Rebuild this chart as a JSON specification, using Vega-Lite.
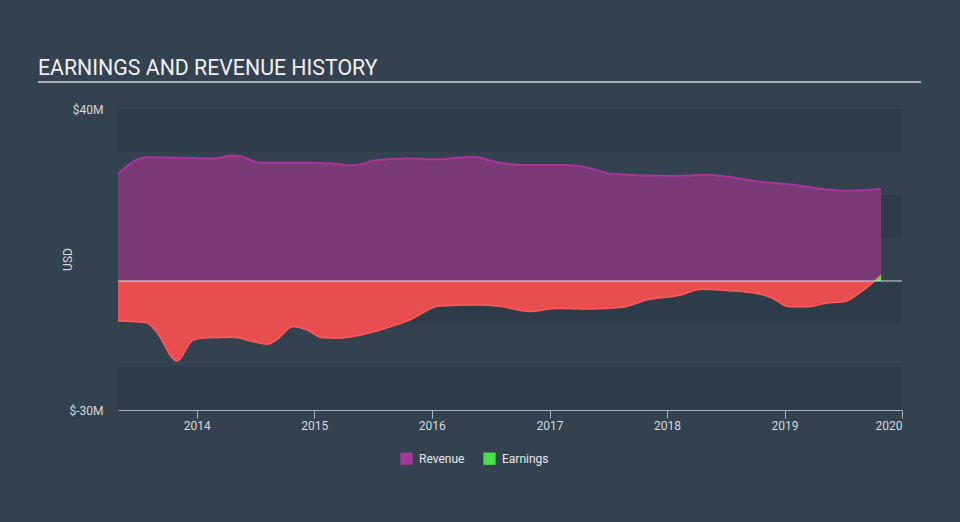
{
  "$schema": "https://vega.github.io/schema/vega-lite/v6.json",
  "width": 784,
  "height": 301,
  "autosize": {"type": "none"},
  "padding": {"left": 118, "top": 109, "right": 58, "bottom": 112},
  "background": "#344250",
  "title": {
    "text": "EARNINGS AND REVENUE HISTORY",
    "anchor": "start",
    "frame": "group",
    "dx": -80,
    "offset": -15,
    "baseline": "alphabetic",
    "fontSize": 21.3,
    "fontWeight": "normal",
    "font": "Roboto",
    "color": "#eef0f2"
  },
  "datasets": {
    "bands": [
      {"lo": 30, "hi": 40},
      {"lo": 10, "hi": 20},
      {"lo": -10, "hi": 0},
      {"lo": -30, "hi": -20}
    ],
    "history": [
      {"date": "2013-05-01", "series": "Revenue", "value": 24.9},
      {"date": "2013-07-08", "series": "Revenue", "value": 28.5},
      {"date": "2013-08-08", "series": "Revenue", "value": 28.8},
      {"date": "2014-02-21", "series": "Revenue", "value": 28.5},
      {"date": "2014-04-22", "series": "Revenue", "value": 29.1},
      {"date": "2014-05-15", "series": "Revenue", "value": 29.0},
      {"date": "2014-07-16", "series": "Revenue", "value": 27.5},
      {"date": "2014-12-09", "series": "Revenue", "value": 27.5},
      {"date": "2015-02-27", "series": "Revenue", "value": 27.3},
      {"date": "2015-04-30", "series": "Revenue", "value": 26.9},
      {"date": "2015-07-13", "series": "Revenue", "value": 28.1},
      {"date": "2015-10-14", "series": "Revenue", "value": 28.5},
      {"date": "2016-01-25", "series": "Revenue", "value": 28.3},
      {"date": "2016-05-07", "series": "Revenue", "value": 28.9},
      {"date": "2016-07-30", "series": "Revenue", "value": 27.5},
      {"date": "2016-10-10", "series": "Revenue", "value": 27.0},
      {"date": "2017-02-23", "series": "Revenue", "value": 27.0},
      {"date": "2017-04-14", "series": "Revenue", "value": 26.6},
      {"date": "2017-07-16", "series": "Revenue", "value": 24.9},
      {"date": "2018-01-18", "series": "Revenue", "value": 24.4},
      {"date": "2018-05-03", "series": "Revenue", "value": 24.7},
      {"date": "2018-06-22", "series": "Revenue", "value": 24.4},
      {"date": "2018-10-15", "series": "Revenue", "value": 23.1},
      {"date": "2019-01-25", "series": "Revenue", "value": 22.4},
      {"date": "2019-05-11", "series": "Revenue", "value": 21.3},
      {"date": "2019-07-20", "series": "Revenue", "value": 21.0},
      {"date": "2019-10-28", "series": "Revenue", "value": 21.4},
      {"date": "2013-05-01", "series": "Earnings", "value": -9.3},
      {"date": "2013-07-29", "series": "Earnings", "value": -9.7},
      {"date": "2013-08-24", "series": "Earnings", "value": -11.4},
      {"date": "2013-11-01", "series": "Earnings", "value": -18.6},
      {"date": "2013-12-20", "series": "Earnings", "value": -13.7},
      {"date": "2014-02-01", "series": "Earnings", "value": -13.2},
      {"date": "2014-04-22", "series": "Earnings", "value": -13.1},
      {"date": "2014-06-24", "series": "Earnings", "value": -14.1},
      {"date": "2014-08-07", "series": "Earnings", "value": -14.7},
      {"date": "2014-09-07", "series": "Earnings", "value": -13.6},
      {"date": "2014-10-26", "series": "Earnings", "value": -10.6},
      {"date": "2014-12-09", "series": "Earnings", "value": -11.4},
      {"date": "2015-01-27", "series": "Earnings", "value": -13.2},
      {"date": "2015-03-20", "series": "Earnings", "value": -13.3},
      {"date": "2015-05-22", "series": "Earnings", "value": -12.6},
      {"date": "2015-08-01", "series": "Earnings", "value": -11.2},
      {"date": "2015-10-24", "series": "Earnings", "value": -9.1},
      {"date": "2016-01-25", "series": "Earnings", "value": -5.8},
      {"date": "2016-05-29", "series": "Earnings", "value": -5.6},
      {"date": "2016-07-30", "series": "Earnings", "value": -5.9},
      {"date": "2016-11-01", "series": "Earnings", "value": -7.1},
      {"date": "2017-01-23", "series": "Earnings", "value": -6.4},
      {"date": "2017-05-06", "series": "Earnings", "value": -6.5},
      {"date": "2017-08-16", "series": "Earnings", "value": -6.1},
      {"date": "2017-10-29", "series": "Earnings", "value": -4.4},
      {"date": "2018-02-09", "series": "Earnings", "value": -3.3},
      {"date": "2018-04-20", "series": "Earnings", "value": -1.9},
      {"date": "2018-07-04", "series": "Earnings", "value": -2.2},
      {"date": "2018-10-15", "series": "Earnings", "value": -3.0},
      {"date": "2018-11-24", "series": "Earnings", "value": -4.0},
      {"date": "2019-01-16", "series": "Earnings", "value": -6.0},
      {"date": "2019-03-09", "series": "Earnings", "value": -6.0},
      {"date": "2019-05-11", "series": "Earnings", "value": -5.2},
      {"date": "2019-07-11", "series": "Earnings", "value": -4.7},
      {"date": "2019-08-20", "series": "Earnings", "value": -2.9},
      {"date": "2019-09-30", "series": "Earnings", "value": -0.5},
      {"date": "2019-10-28", "series": "Earnings", "value": 1.4}
    ],
    "positive": [
      {"date": "2019-10-07", "value": 0},
      {"date": "2019-10-28", "value": 1.4}
    ]
  },
  "layer": [
    {
      "data": {"name": "bands"},
      "mark": {"type": "rect", "color": "#2e3b49"},
      "encoding": {
        "y": {"field": "lo", "type": "quantitative", "title": "USD", "scale": {"domain": [-30, 40], "nice": false, "zero": false}, "axis": {"values": [-30, 40]}},
        "y2": {"field": "hi"}
      }
    },
    {
      "data": {"name": "history"},
      "transform": [{"filter": "datum.series === 'Revenue'"}],
      "mark": {"type": "area", "interpolate": "monotone", "color": "#7b3a76", "opacity": 1, "line": {"color": "#a8369c", "strokeWidth": 2}},
      "encoding": {
        "x": {"field": "date", "type": "temporal", "title": null, "scale": {"domain": ["2013-05-01", "2020-01-01"]}},
        "y": {"field": "value", "type": "quantitative", "title": "USD", "axis": {"values": [-30, 40]}}
      }
    },
    {
      "data": {"name": "history"},
      "transform": [{"filter": "datum.series === 'Earnings'"}],
      "mark": {"type": "area", "interpolate": "monotone", "color": "#e84e50", "opacity": 1, "line": {"color": "#ff5a5a", "strokeWidth": 1.5}},
      "encoding": {
        "x": {"field": "date", "type": "temporal", "title": null},
        "y": {"field": "value", "type": "quantitative", "title": "USD", "axis": {"values": [-30, 40]}}
      }
    },
    {
      "data": {"name": "positive"},
      "mark": {"type": "area", "color": "#4be04b", "opacity": 1},
      "encoding": {
        "x": {"field": "date", "type": "temporal", "title": null},
        "y": {"field": "value", "type": "quantitative", "title": "USD", "axis": {"values": [-30, 40]}}
      }
    },
    {
      "data": {"values": [{}]},
      "mark": {"type": "rule", "color": "#ffffff", "opacity": 0.8, "strokeWidth": 1},
      "encoding": {"y": {"datum": 0, "type": "quantitative", "title": "USD", "axis": {"values": [-30, 40]}}}
    },
    {
      "data": {"name": "history"},
      "mark": {"type": "square", "opacity": 0},
      "encoding": {
        "x": {"field": "date", "type": "temporal", "title": null},
        "y": {"field": "value", "type": "quantitative", "title": "USD", "axis": {"values": [-30, 40]}},
        "color": {
          "field": "series",
          "type": "nominal",
          "scale": {"domain": ["Revenue", "Earnings"], "range": ["#a2399b", "#4be04b"]},
          "legend": {
            "orient": "none",
            "legendX": 282,
            "legendY": 343,
            "direction": "horizontal",
            "title": null,
            "symbolType": "square",
            "symbolSize": 150,
            "symbolOpacity": 1,
            "symbolStrokeWidth": 0,
            "labelColor": "#e6e8ea",
            "labelFontSize": 12,
            "labelOffset": 6,
            "columnPadding": 18
          }
        }
      }
    },
    {
      "data": {"values": [{}]},
      "mark": {"type": "rule", "color": "#a9adb1", "strokeWidth": 2},
      "encoding": {"x": {"value": -80}, "x2": {"value": 803}, "y": {"value": -27}}
    }
  ],
  "config": {
    "font": "Roboto",
    "view": {"stroke": null},
    "axisX": {
      "format": "%Y",
      "tickCount": {"interval": "year", "step": 1},
      "grid": false,
      "domainColor": "#aab3be",
      "tickColor": "#aab3be",
      "tickSize": 8,
      "labelColor": "#d4d8dd",
      "labelFontSize": 12,
      "labelPadding": 2
    },
    "axisY": {
      "labelExpr": "'$' + datum.value + 'M'",
      "grid": false,
      "domain": false,
      "ticks": false,
      "labelPadding": 15,
      "labelColor": "#d4d8dd",
      "labelFontSize": 12,
      "titleColor": "#d4d8dd",
      "titleFontSize": 12,
      "titleFontWeight": "normal",
      "titleX": -44,
      "titleY": 150
    }
  }
}
